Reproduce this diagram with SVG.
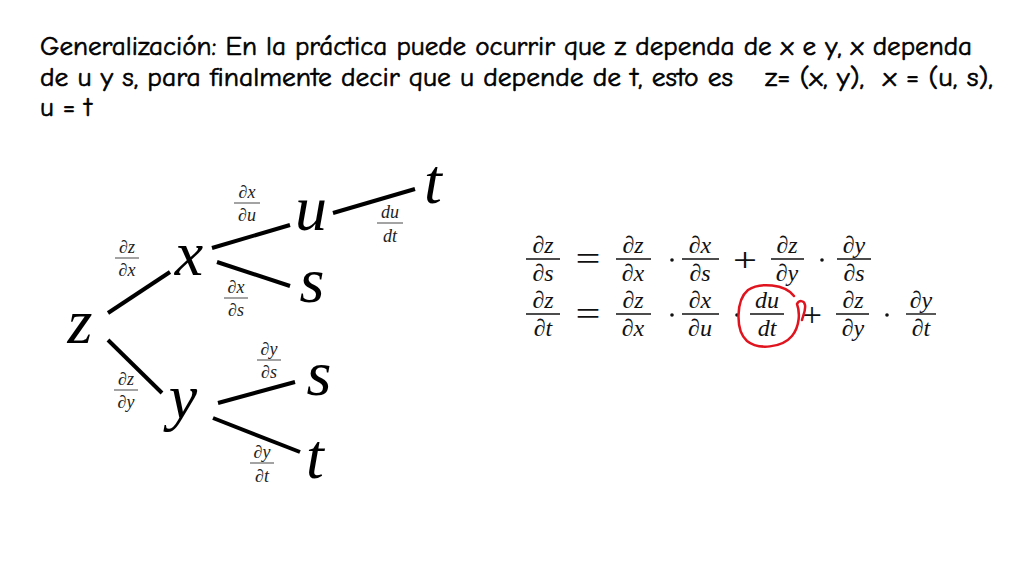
<svg xmlns="http://www.w3.org/2000/svg" width="1024" height="576" viewBox="0 0 1024 576">
<style>
.title{font-family:"Comic Neue","Open Sans","Liberation Sans",sans-serif;font-size:26px;fill:#000;stroke:#000;stroke-width:0.6;white-space:pre}
.var{font-family:"Liberation Serif","Times New Roman",serif;font-style:italic;font-size:64px;fill:#000;text-anchor:middle}
.edge{stroke:#000;stroke-width:4;stroke-linecap:butt}
.fs{font-family:"Liberation Serif",serif;font-style:italic;font-size:18px;fill:#222;text-anchor:middle}
.fbar{stroke:#666;stroke-width:1.2}
.eq{font-family:"Liberation Serif",serif;font-style:italic;font-size:24px;fill:#111;text-anchor:middle}
.op{font-family:"Liberation Serif",serif;font-size:34px;fill:#111;text-anchor:middle}
.ebar{stroke:#111;stroke-width:1.4}
</style>
<rect width="1024" height="576" fill="#fff"/>
<g id="title">
<text class="title" x="40" y="55" textLength="932" lengthAdjust="spacingAndGlyphs">Generalización: En la práctica puede ocurrir que z dependa de x e y, x dependa</text>
<text class="title" x="40" y="86" textLength="693" lengthAdjust="spacingAndGlyphs">de u y s, para finalmente decir que u depende de t, esto es</text>
<text class="title" x="765" y="86" textLength="228" lengthAdjust="spacingAndGlyphs">z= (x, y),  x = (u, s),</text>
<text class="title" x="40" y="116" textLength="52" lengthAdjust="spacingAndGlyphs">u = t</text>
</g>
<g id="connectors">
<line class="edge" x1="108" y1="313" x2="170" y2="272"/>
<line class="edge" x1="108" y1="340" x2="162" y2="393"/>
<line class="edge" x1="212" y1="248" x2="290" y2="225"/>
<line class="edge" x1="217" y1="262" x2="290" y2="286"/>
<line class="edge" x1="333" y1="213" x2="415" y2="189"/>
<line class="edge" x1="218" y1="403" x2="295" y2="382"/>
<line class="edge" x1="213" y1="418" x2="300" y2="452"/>
</g>
<g id="edge-labels">
<g id="lbl-dzdx"><text class="fs"><tspan x="127" y="253">∂z</tspan><tspan x="127" y="276">∂x</tspan></text><line class="fbar" x1="115" y1="258" x2="139" y2="258"/></g>
<g id="lbl-dxdu"><text class="fs"><tspan x="247" y="198">∂x</tspan><tspan x="247" y="221">∂u</tspan></text><line class="fbar" x1="234" y1="203" x2="260" y2="203"/></g>
<g id="lbl-dudt"><text class="fs"><tspan x="390" y="218">du</tspan><tspan x="390" y="242">dt</tspan></text><line class="fbar" x1="377" y1="223" x2="403" y2="223"/></g>
<g id="lbl-dxds"><text class="fs"><tspan x="236" y="293">∂x</tspan><tspan x="236" y="316">∂s</tspan></text><line class="fbar" x1="224" y1="298" x2="248" y2="298"/></g>
<g id="lbl-dzdy"><text class="fs"><tspan x="126" y="385">∂z</tspan><tspan x="126" y="408">∂y</tspan></text><line class="fbar" x1="114" y1="390" x2="138" y2="390"/></g>
<g id="lbl-dyds"><text class="fs"><tspan x="269" y="355">∂y</tspan><tspan x="269" y="378">∂s</tspan></text><line class="fbar" x1="257" y1="360" x2="281" y2="360"/></g>
<g id="lbl-dydt"><text class="fs"><tspan x="262" y="458">∂y</tspan><tspan x="262" y="482">∂t</tspan></text><line class="fbar" x1="250" y1="463" x2="274" y2="463"/></g>
</g>
<g id="node-z"><text class="var" x="80" y="343">z</text></g>
<g id="node-x"><text class="var" x="189" y="275">x</text></g>
<g id="node-u"><text class="var" x="311" y="230">u</text></g>
<g id="node-t1"><text class="var" x="433" y="203">t</text></g>
<g id="node-s1"><text class="var" x="312" y="302">s</text></g>
<g id="node-y"><text class="var" x="183" y="418">y</text></g>
<g id="node-s2"><text class="var" x="319" y="395">s</text></g>
<g id="node-t2"><text class="var" x="315" y="478">t</text></g>
<g id="equations">
<g id="eq1">
<text class="eq"><tspan x="543" y="253">∂z</tspan><tspan x="543" y="281">∂s</tspan></text><line class="ebar" x1="526" y1="259" x2="560" y2="259"/>
<text class="op" x="588" y="270" textLength="25" lengthAdjust="spacingAndGlyphs">=</text>
<text class="eq"><tspan x="633" y="253">∂z</tspan><tspan x="633" y="281">∂x</tspan></text><line class="ebar" x1="616" y1="259" x2="651" y2="259"/>
<circle cx="672" cy="260" r="1.8" fill="#111"/>
<text class="eq"><tspan x="700" y="253">∂x</tspan><tspan x="700" y="281">∂s</tspan></text><line class="ebar" x1="682" y1="259" x2="719" y2="259"/>
<text class="op" x="745" y="271" textLength="24" lengthAdjust="spacingAndGlyphs">+</text>
<text class="eq"><tspan x="787" y="253">∂z</tspan><tspan x="787" y="281">∂y</tspan></text><line class="ebar" x1="771" y1="259" x2="804" y2="259"/>
<circle cx="822" cy="260" r="1.8" fill="#111"/>
<text class="eq"><tspan x="854" y="253">∂y</tspan><tspan x="854" y="281">∂s</tspan></text><line class="ebar" x1="837" y1="259" x2="871" y2="259"/>
</g>
<g id="eq2">
<text class="eq"><tspan x="543" y="308">∂z</tspan><tspan x="543" y="336">∂t</tspan></text><line class="ebar" x1="526" y1="314" x2="560" y2="314"/>
<text class="op" x="588" y="325" textLength="25" lengthAdjust="spacingAndGlyphs">=</text>
<text class="eq"><tspan x="633" y="308">∂z</tspan><tspan x="633" y="336">∂x</tspan></text><line class="ebar" x1="616" y1="314" x2="651" y2="314"/>
<circle cx="672" cy="315" r="1.8" fill="#111"/>
<text class="eq"><tspan x="700" y="308">∂x</tspan><tspan x="700" y="336">∂u</tspan></text><line class="ebar" x1="682" y1="314" x2="719" y2="314"/>
<circle cx="737" cy="315" r="1.8" fill="#111"/>
<text class="eq"><tspan x="767" y="308">du</tspan><tspan x="767" y="336">dt</tspan></text><line class="ebar" x1="750" y1="314" x2="784" y2="314"/>
<text class="op" x="812" y="326" textLength="20" lengthAdjust="spacingAndGlyphs">+</text>
<text class="eq"><tspan x="853" y="308">∂z</tspan><tspan x="853" y="336">∂y</tspan></text><line class="ebar" x1="836" y1="314" x2="869" y2="314"/>
<circle cx="887" cy="315" r="1.8" fill="#111"/>
<text class="eq"><tspan x="921" y="308">∂y</tspan><tspan x="921" y="336">∂t</tspan></text><line class="ebar" x1="906" y1="314" x2="936" y2="314"/>
</g>
<path id="red-circle" d="M794 296 C785 284 760 282 748 290 C736 300 735 330 747 341 C758 350 782 348 792 336 C800 326 800 312 797 304 C799 300 804 300 805 305 C806 310 803 316 802 320" fill="none" stroke="#e0141e" stroke-width="2.5" stroke-linecap="round"/>
</g>
</svg>
